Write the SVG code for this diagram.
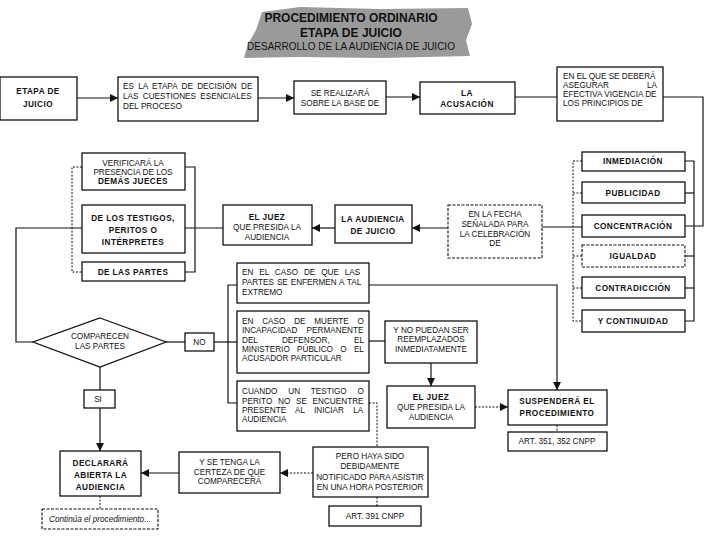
<svg xmlns="http://www.w3.org/2000/svg" width="720" height="540" viewBox="0 0 720 540">
<defs>
<style>
.b{fill:#fff;stroke:#111;stroke-width:1.3}
.bd{fill:#fff;stroke:#111;stroke-width:1.1;stroke-dasharray:3 1.5}
.t{font-family:"Liberation Sans",Arial,sans-serif;font-size:8.2px;fill:#111}
.tb{font-weight:bold;font-size:8.2px;letter-spacing:0.45px}
.c{text-anchor:middle}
.e{text-anchor:end}
.ln{fill:none;stroke:#111;stroke-width:1.2}
.dl{fill:none;stroke:#111;stroke-width:1;stroke-dasharray:2 1.5}
.ttl{font-family:"Liberation Sans",Arial,sans-serif;fill:#111;text-anchor:middle}
</style>
<marker id="ah" viewBox="0 0 10 10" refX="10" refY="5" markerWidth="9" markerHeight="8" markerUnits="userSpaceOnUse" orient="auto">
<path d="M0,0 L10,5 L0,10 z" fill="#111"/>
</marker>
</defs>
<rect x="0" y="0" width="720" height="540" fill="#fff"/>

<g id="title">
<path d="M262,12 L300,7 L380,9 L468,8 L472,24 L466,40 L470,56 L380,58 L300,57 L244,58 L248,44 L256,30 Z" fill="#9a9a9a"/>
<text class="ttl" x="351" y="22" font-size="12" font-weight="bold">PROCEDIMIENTO ORDINARIO</text>
<text class="ttl" x="351" y="37" font-size="12" font-weight="bold">ETAPA DE JUICIO</text>
<text class="ttl" x="351" y="50" font-size="10">DESARROLLO DE LA AUDIENCIA DE JUICIO</text>
</g>

<g id="connectors">
<line class="ln" x1="77" y1="98" x2="118" y2="98" marker-end="url(#ah)"/>
<line class="ln" x1="258" y1="98" x2="294" y2="98" marker-end="url(#ah)"/>
<line class="ln" x1="386" y1="97" x2="420" y2="97" marker-end="url(#ah)"/>
<line class="ln" x1="515" y1="97" x2="557" y2="97"/>
<polyline class="ln" points="663,97 703,97 703,226 685,226"/>
<polyline class="dl" points="582,161 573,161 573,321 582,321"/>
<line class="dl" x1="573" y1="193" x2="582" y2="193"/>
<line class="dl" x1="573" y1="256" x2="582" y2="256"/>
<line class="dl" x1="573" y1="288" x2="582" y2="288"/>
<polyline class="ln" points="685,161 694,161 694,321 685,321"/>
<line class="ln" x1="685" y1="193" x2="694" y2="193"/>
<line class="ln" x1="685" y1="256" x2="694" y2="256"/>
<line class="ln" x1="685" y1="288" x2="694" y2="288"/>
<line class="ln" x1="542" y1="227" x2="582" y2="227"/>
<line class="ln" x1="448" y1="228" x2="412" y2="228" marker-end="url(#ah)"/>
<line class="ln" x1="335" y1="228" x2="312" y2="228" marker-end="url(#ah)"/>
<line class="ln" x1="223" y1="228" x2="185" y2="228"/>
<polyline class="ln" points="185,167 195,167 195,272 185,272"/>
<polyline class="dl" points="82,167 72,167 72,272 82,272"/>
<polyline class="ln" points="82,228 16,228 16,342 33,342"/>
<line class="ln" x1="166" y1="342" x2="185" y2="342"/>
<line class="ln" x1="214" y1="342" x2="228" y2="342"/>
<polyline class="ln" points="237,285 228,285 228,403 237,403"/>
<line class="ln" x1="228" y1="342" x2="237" y2="342"/>
<polyline class="ln" points="369,285 557,285 557,390" marker-end="url(#ah)"/>
<line class="ln" x1="369" y1="341" x2="385" y2="341"/>
<line class="ln" x1="431" y1="363" x2="431" y2="386" marker-end="url(#ah)"/>
<line class="dl" x1="475" y1="407" x2="508" y2="407" marker-end="url(#ah)"/>
<line class="dl" x1="557" y1="425" x2="557" y2="432"/>
<polyline class="dl" points="369,403 377,403 377,447"/>
<line class="dl" x1="377" y1="497" x2="377" y2="506"/>
<line class="dl" x1="313" y1="473" x2="280" y2="473" marker-end="url(#ah)"/>
<line class="ln" x1="179" y1="473" x2="141" y2="473" marker-end="url(#ah)"/>
<line class="ln" x1="100" y1="367" x2="100" y2="390"/>
<line class="ln" x1="100" y1="408" x2="100" y2="451" marker-end="url(#ah)"/>
<line class="dl" x1="100" y1="496" x2="100" y2="509"/>
</g>

<g id="n-etapa">
<rect class="b" x="0" y="77" width="77" height="43"/>
<text class="t tb c" x="38" y="94" font-size="9">ETAPA DE</text>
<text class="t tb c" x="38" y="107">JUICIO</text>
</g>
<g id="n-es-la-etapa">
<rect class="b" x="118" y="77" width="140" height="44"/>
<text class="t" x="123" y="89" style="word-spacing:2px">ES LA ETAPA DE DECISIÓN DE</text>
<text class="t" x="123" y="99" style="word-spacing:2px">LAS CUESTIONES ESENCIALES</text>
<text class="t" x="123" y="109">DEL PROCESO</text>
</g>
<g id="n-se-realizara">
<rect class="b" x="294" y="81" width="92" height="33"/>
<text class="t c" x="340" y="96">SE REALIZARÁ</text>
<text class="t c" x="340" y="106">SOBRE LA BASE DE</text>
</g>
<g id="n-acusacion">
<rect class="b" x="420" y="82" width="95" height="32"/>
<text class="t tb c" x="467" y="96">LA</text>
<text class="t tb c" x="467" y="107">ACUSACIÓN</text>
</g>
<g id="n-en-el-que">
<rect class="b" x="557" y="67" width="106" height="54"/>
<text class="t" x="563" y="79">EN EL QUE SE DEBERÁ</text>
<text class="t" x="563" y="88">ASEGURAR</text>
<text class="t e" x="657" y="88">LA</text>
<text class="t" x="563" y="97">EFECTIVA VIGENCIA DE</text>
<text class="t" x="563" y="106">LOS PRINCIPIOS DE</text>
</g>

<g id="n-inmediacion"><rect class="b" x="582" y="152" width="103" height="19"/><text class="t tb c" x="633" y="164">INMEDIACIÓN</text></g>
<g id="n-publicidad"><rect class="b" x="582" y="182" width="103" height="21"/><text class="t tb c" x="633" y="196">PUBLICIDAD</text></g>
<g id="n-concentracion"><rect class="b" x="582" y="215" width="103" height="22"/><text class="t tb c" x="633" y="229">CONCENTRACIÓN</text></g>
<g id="n-igualdad"><rect class="bd" x="582" y="245" width="103" height="22"/><text class="t tb c" x="633" y="259">IGUALDAD</text></g>
<g id="n-contradiccion"><rect class="b" x="582" y="277" width="103" height="21"/><text class="t tb c" x="633" y="291">CONTRADICCIÓN</text></g>
<g id="n-continuidad"><rect class="b" x="582" y="310" width="103" height="22"/><text class="t tb c" x="633" y="324">Y CONTINUIDAD</text></g>

<g id="n-en-la-fecha">
<rect class="bd" x="448" y="205" width="94" height="53"/>
<text class="t c" x="495" y="217">EN LA FECHA</text>
<text class="t c" x="495" y="227">SEÑALADA PARA</text>
<text class="t c" x="495" y="237">LA CELEBRACIÓN</text>
<text class="t c" x="495" y="246">DE</text>
</g>
<g id="n-audiencia-juicio">
<rect class="b" x="335" y="205" width="77" height="38"/>
<text class="t tb c" x="373" y="222">LA AUDIENCIA</text>
<text class="t tb c" x="373" y="234">DE JUICIO</text>
</g>
<g id="n-el-juez-1">
<rect class="b" x="223" y="205" width="89" height="40"/>
<text class="t tb c" x="267" y="220">EL JUEZ</text>
<text class="t c" x="267" y="230">QUE PRESIDA LA</text>
<text class="t c" x="267" y="240">AUDIENCIA</text>
</g>
<g id="n-verificara">
<rect class="b" x="82" y="153" width="103" height="37"/>
<text class="t c" x="133" y="166">VERIFICARÁ LA</text>
<text class="t c" x="133" y="175">PRESENCIA DE LOS</text>
<text class="t tb c" x="133" y="184">DEMÁS JUECES</text>
</g>
<g id="n-testigos">
<rect class="b" x="82" y="205" width="103" height="48"/>
<text class="t tb c" x="133" y="221">DE LOS TESTIGOS,</text>
<text class="t tb c" x="133" y="233">PERITOS O</text>
<text class="t tb c" x="133" y="245">INTÉRPRETES</text>
</g>
<g id="n-partes">
<rect class="b" x="82" y="262" width="103" height="19"/>
<text class="t tb c" x="133" y="275">DE LAS PARTES</text>
</g>

<g id="n-comparecen">
<polygon class="b" points="100,318 166,342 100,367 33,342"/>
<text class="t c" x="100" y="339">COMPARECEN</text>
<text class="t c" x="100" y="349">LAS PARTES</text>
</g>
<g id="n-no">
<rect class="b" x="185" y="333" width="29" height="18"/>
<text class="t c" x="199.5" y="345">NO</text>
</g>
<g id="n-si">
<rect class="b" x="84" y="390" width="31" height="18"/>
<text class="t c" x="98" y="402">SI</text>
</g>

<g id="n-caso-1">
<rect class="b" x="237" y="263" width="132" height="40"/>
<text class="t" x="242" y="275" style="word-spacing:3.6px">EN EL CASO DE QUE LAS</text>
<text class="t" x="242" y="285" style="word-spacing:0.6px">PARTES SE ENFERMEN A TAL</text>
<text class="t" x="242" y="295">EXTREMO</text>
</g>
<g id="n-caso-2">
<rect class="b" x="237" y="311" width="132" height="62"/>
<text class="t" x="242" y="324" style="word-spacing:6.5px">EN CASO DE MUERTE O</text>
<text class="t" x="242" y="333" style="word-spacing:7px">INCAPACIDAD PERMANENTE</text>
<text class="t" x="242" y="343" style="word-spacing:22px">DEL DEFENSOR, EL</text>
<text class="t" x="242" y="352" style="word-spacing:5px">MINISTERIO PÚBLICO O EL</text>
<text class="t" x="242" y="361">ACUSADOR PARTICULAR</text>
</g>
<g id="n-caso-3">
<rect class="b" x="237" y="381" width="132" height="50"/>
<text class="t" x="242" y="394" style="word-spacing:8.5px">CUANDO UN TESTIGO O</text>
<text class="t" x="242" y="404" style="word-spacing:3.4px">PERITO NO SE ENCUENTRE</text>
<text class="t" x="242" y="413" style="word-spacing:7px">PRESENTE AL INICIAR LA</text>
<text class="t" x="242" y="422">AUDIENCIA</text>
</g>

<g id="n-no-puedan">
<rect class="b" x="385" y="321" width="92" height="42"/>
<text class="t c" x="431" y="333">Y NO PUEDAN SER</text>
<text class="t c" x="431" y="342">REEMPLAZADOS</text>
<text class="t c" x="431" y="352">INMEDIATAMENTE</text>
</g>
<g id="n-el-juez-2">
<rect class="b" x="387" y="386" width="88" height="42"/>
<text class="t tb c" x="431" y="400">EL JUEZ</text>
<text class="t c" x="431" y="410">QUE PRESIDA LA</text>
<text class="t c" x="431" y="420">AUDIENCIA</text>
</g>
<g id="n-suspendera">
<rect class="b" x="508" y="390" width="99" height="35"/>
<text class="t tb c" x="557" y="404">SUSPENDERÁ EL</text>
<text class="t tb c" x="557" y="416">PROCEDIMIENTO</text>
</g>
<g id="n-art-351">
<rect class="b" x="508" y="432" width="99" height="19"/>
<text class="t c" x="557" y="444" font-size="8">ART. 351, 352 CNPP</text>
</g>

<g id="n-pero">
<rect class="b" x="313" y="447" width="115" height="50"/>
<text class="t c" x="370" y="459">PERO HAYA SIDO</text>
<text class="t c" x="370" y="469">DEBIDAMENTE</text>
<text class="t c" x="370" y="480">NOTIFICADO PARA ASISTIR</text>
<text class="t c" x="370" y="490">EN UNA HORA POSTERIOR</text>
</g>
<g id="n-art-391">
<rect class="b" x="329" y="506" width="92" height="20"/>
<text class="t c" x="375" y="519" font-size="8">ART. 391 CNPP</text>
</g>
<g id="n-se-tenga">
<rect class="b" x="179" y="452" width="101" height="41"/>
<text class="t c" x="229.5" y="465">Y SE TENGA LA</text>
<text class="t c" x="229.5" y="475">CERTEZA DE QUE</text>
<text class="t c" x="229.5" y="484">COMPARECERÁ</text>
</g>
<g id="n-declarara">
<rect class="b" x="60" y="451" width="81" height="45"/>
<text class="t tb c" x="100.5" y="466">DECLARARÁ</text>
<text class="t tb c" x="100.5" y="478">ABIERTA LA</text>
<text class="t tb c" x="100.5" y="490">AUDIENCIA</text>
</g>
<g id="n-continua">
<rect class="bd" x="42" y="509" width="116" height="20"/>
<text class="t c" x="100" y="522" font-style="italic" font-size="8.5">Continúa el procedimiento...</text>
</g>
</svg>
